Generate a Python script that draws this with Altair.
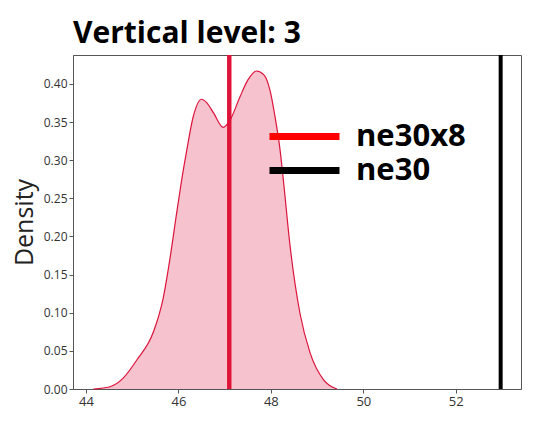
import altair as alt
import pandas as pd

# KDE curve
kde_x = [44.16, 44.52, 44.80, 45.10, 45.46, 45.67, 45.82, 45.96, 46.07, 46.18, 46.32,
         46.50, 46.62, 46.76, 46.97, 47.12, 47.33, 47.50, 47.69, 47.85, 47.98, 48.09,
         48.20, 48.27, 48.42, 48.63, 48.85, 49.14, 49.43]
kde_y = [0.000, 0.003, 0.014, 0.038, 0.075, 0.119, 0.172, 0.230, 0.274, 0.313, 0.357,
         0.380, 0.375, 0.362, 0.343, 0.353, 0.383, 0.405, 0.417, 0.412, 0.392, 0.357,
         0.313, 0.274, 0.185, 0.099, 0.047, 0.012, 0.000]

models = ["ne30x8", "ne30"]
model_values = [47.1, 52.97]
legend_colors = ["#ff0000", "#000000"]
ensemble_mean = [47.1]

x_ticks = [44, 46, 48, 50, 52]
y_ticks = [0.00, 0.05, 0.10, 0.15, 0.20, 0.25, 0.30, 0.35, 0.40]

kde = pd.DataFrame({"x": kde_x, "y": kde_y})
lines = pd.DataFrame({"model": models, "x": model_values})
mean_df = pd.DataFrame({"x": ensemble_mean})

xs = alt.Scale(domain=[43.72, 53.41], nice=False, zero=False)
ys = alt.Scale(domain=[0, 0.438], nice=False)

xenc = alt.X("x:Q", scale=xs, axis=alt.Axis(values=x_ticks, title=None, format="d"))
yenc = alt.Y("y:Q", scale=ys, axis=alt.Axis(values=y_ticks, format=".2f", title="Density"))

area = alt.Chart(kde).mark_area(color="#dc143c", opacity=0.26, interpolate="monotone").encode(
    x=xenc, y=yenc)
curve = alt.Chart(kde).mark_line(color="#dc143c", strokeWidth=1.2, interpolate="monotone").encode(
    x=xenc, y=yenc)

rules = alt.Chart(lines).mark_rule(strokeWidth=4).encode(
    x=alt.X("x:Q", scale=xs),
    color=alt.Color("model:N",
                    scale=alt.Scale(domain=models, range=legend_colors),
                    legend=alt.Legend(title=None, orient="none", legendX=216, legendY=66,
                                      symbolType="M-3.333,0H3.333", symbolSize=441,
                                      symbolStrokeWidth=7, labelFont="Open Sans",
                                      labelFontWeight="bold", labelFontSize=31,
                                      labelColor="#000000", labelOffset=36,
                                      rowPadding=2, labelLimit=300)),
)
mean_rule = alt.Chart(mean_df).mark_rule(color="#dc143c", strokeWidth=4).encode(
    x=alt.X("x:Q", scale=xs))

chart = alt.layer(area, curve, rules, mean_rule).properties(
    width=448, height=334,
    autosize=alt.AutoSizeParams(type="none"),
    padding={"left": 65, "top": 47, "right": 9, "bottom": 29},
    title=alt.TitleParams("Vertical level: 3", anchor="start", frame="group",
                          font="Open Sans", fontSize=30, fontWeight="bold",
                          color="#000000", offset=12, baseline="alphabetic", dy=32),
).configure_view(stroke="#555555", strokeWidth=1).configure_axis(
    grid=False, domainColor="#555555", tickColor="#555555", tickSize=4,
    labelFont="Open Sans", labelFontSize=12, labelColor="#333333",
    titleFont="Open Sans", titleFontSize=25, titleFontWeight="normal",
    titleColor="#222222", titlePadding=6,
).configure_axisX(labelFontSize=13)

chart.save("out.html", embed_options={"renderer": "svg", "actions": False})
